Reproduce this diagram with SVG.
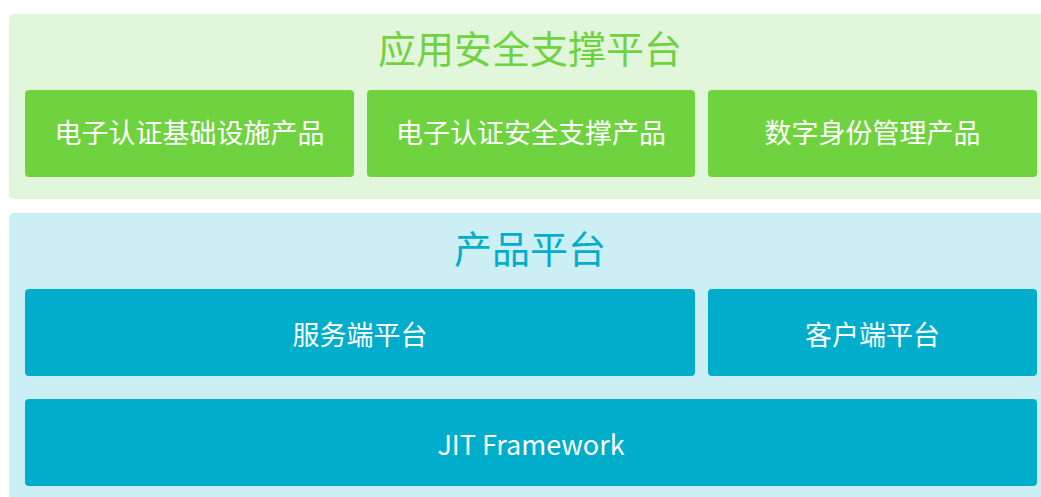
<svg xmlns="http://www.w3.org/2000/svg" width="1041" height="497" viewBox="0 0 1041 497">
<style>
.t{font-family:"Noto Sans CJK SC","Noto Sans",sans-serif;text-anchor:middle;dominant-baseline:central}
.lbl{fill:#ffffff;font-size:27px}
.ttl{font-size:38px}
.g{fill:#6fd33f}
.b{fill:#00aecb}
</style>
<rect x="9" y="14" width="1040" height="185" rx="5" fill="#e2f6dc"/>
<rect x="9" y="213" width="1040" height="295" rx="5" fill="#cceef5"/>
<text class="t ttl" x="530" y="46" fill="#6fd33f">应用安全支撑平台</text>
<text class="t ttl" x="530" y="246" fill="#00aecb">产品平台</text>
<g id="n1"><rect class="g" x="25" y="90" width="329" height="87" rx="4"/><text class="t lbl" x="189.5" y="131">电子认证基础设施产品</text></g>
<g id="n2"><rect class="g" x="367" y="90" width="328" height="87" rx="4"/><text class="t lbl" x="531" y="131">电子认证安全支撑产品</text></g>
<g id="n3"><rect class="g" x="708" y="90" width="329" height="87" rx="4"/><text class="t lbl" x="872.5" y="131">数字身份管理产品</text></g>
<g id="n4"><rect class="b" x="25" y="289" width="670" height="87" rx="4"/><text class="t lbl" x="360" y="333">服务端平台</text></g>
<g id="n5"><rect class="b" x="708" y="289" width="329" height="87" rx="4"/><text class="t lbl" x="872.5" y="333">客户端平台</text></g>
<g id="n6"><rect class="b" x="25" y="399" width="1012" height="87" rx="4"/><text class="t lbl" x="531" y="443">JIT Framework</text></g>
<g id="connectors"/>
</svg>
